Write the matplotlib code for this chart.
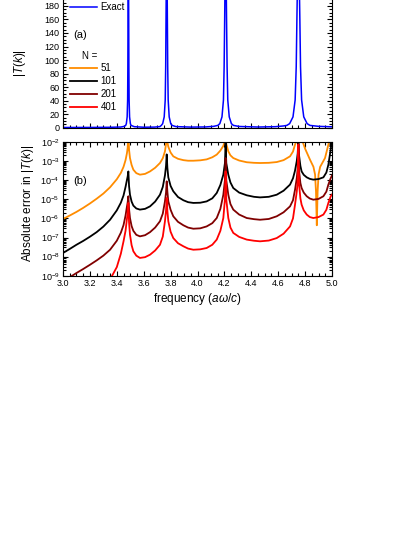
import numpy as np
import matplotlib
matplotlib.use("Agg")
import matplotlib.pyplot as plt
from matplotlib.lines import Line2D
from matplotlib.ticker import MultipleLocator, LogLocator, FormatStrFormatter

plt.rcParams['font.family'] = ['Liberation Sans', 'DejaVu Sans']
plt.rcParams['mathtext.fontset'] = 'custom'
plt.rcParams['mathtext.rm'] = 'Liberation Sans'
plt.rcParams['mathtext.it'] = 'Liberation Sans:italic'

# (a) exact |T(k)|
x_exact = [3.00, 3.20, 3.35, 3.43, 3.456, 3.466, 3.471, 3.477, 3.4805, 3.4822, 3.4835,
           3.486, 3.4885, 3.4898, 3.4915, 3.495, 3.501, 3.506, 3.53, 3.60, 3.68, 3.72,
           3.731, 3.741, 3.7525, 3.760, 3.7635, 3.766, 3.771, 3.776, 3.7785, 3.782, 3.7895,
           3.801, 3.811, 3.84, 3.95, 4.06, 4.12, 4.151, 4.166, 4.182, 4.193, 4.198, 4.202,
           4.209, 4.216, 4.220, 4.225, 4.236, 4.252, 4.267, 4.31, 4.45, 4.58, 4.64, 4.664,
           4.685, 4.710, 4.726, 4.734, 4.739, 4.750, 4.761, 4.766, 4.774, 4.790, 4.815,
           4.836, 4.90, 5.00]
t_exact = [0.3, 0.4, 0.6, 1.0, 2.0, 3.4, 6, 16, 41, 90, 160,
           300, 160, 90, 41, 16, 6, 3.4, 1.5, 0.7, 0.9, 1.6,
           3.4, 6, 16, 41, 90, 160, 300, 160, 90, 41, 16,
           6, 3.4, 1.6, 0.9, 1.1, 2.0, 3.4, 6, 16, 41, 90, 160,
           300, 160, 90, 41, 16, 6, 3.4, 1.8, 1.0, 1.5, 2.6, 3.4,
           6, 16, 41, 90, 160, 300, 160, 90, 41, 16, 6,
           3.4, 2.0, 1.3]

# (b) absolute error, stored as log10 of the value
x_err = [3.00, 3.05, 3.10, 3.15, 3.20, 3.25, 3.30, 3.35, 3.40, 3.43, 3.45, 3.465, 3.475, 3.481, 3.486,
         3.491, 3.498, 3.51, 3.523, 3.545, 3.572, 3.61, 3.647, 3.685, 3.721, 3.742, 3.758, 3.766, 3.771,
         3.776, 3.783, 3.80, 3.82, 3.855, 3.895, 3.93, 3.969, 4.02, 4.068, 4.11, 4.143, 4.17, 4.192, 4.204, 4.209,
         4.214, 4.229, 4.245, 4.266, 4.31, 4.366, 4.42, 4.465, 4.53, 4.589, 4.64, 4.688, 4.71, 4.725, 4.738, 4.745, 4.750,
         4.755, 4.765, 4.774, 4.79, 4.812, 4.835, 4.861, 4.90, 4.936, 4.958, 4.973, 4.99, 5.00]
log_err101 = [-7.81, -7.60, -7.38, -7.18, -6.96, -6.72, -6.43, -6.07, -5.58, -5.18, -4.80, -4.35, -4.00, -3.80, -3.54,
              -4.30, -4.76, -5.12, -5.33, -5.48, -5.54, -5.50, -5.37, -5.12, -4.76, -4.35, -3.75, -3.25, -2.65,
              -3.35, -3.85, -4.30, -4.58, -4.88, -5.05, -5.15, -5.19, -5.18, -5.11, -4.95, -4.67, -4.25, -3.71, -3.10, -2.05,
              -3.10, -3.71, -4.12, -4.41, -4.65, -4.79, -4.87, -4.90, -4.87, -4.76, -4.55, -4.23, -3.90, -3.50, -3.00, -2.60, -1.90,
              -2.70, -3.25, -3.54, -3.72, -3.85, -3.93, -3.97, -3.94, -3.85, -3.60, -3.19, -2.40, -1.90]
log_err201 = [-9.30, -9.08, -8.86, -8.65, -8.43, -8.20, -7.95, -7.64, -7.17, -6.75, -6.35, -5.85, -5.40, -5.15, -4.84,
              -5.50, -5.98, -6.40, -6.65, -6.86, -6.94, -6.88, -6.72, -6.48, -6.15, -5.75, -5.11, -4.65, -4.06,
              -4.60, -5.11, -5.55, -5.89, -6.18, -6.36, -6.48, -6.54, -6.52, -6.42, -6.25, -5.98, -5.50, -4.76, -4.00, -2.84,
              -4.00, -4.76, -5.25, -5.54, -5.80, -5.98, -6.04, -6.07, -6.03, -5.89, -5.68, -5.37, -5.05, -4.50, -3.90, -3.40, -2.10,
              -3.50, -4.15, -4.41, -4.65, -4.84, -4.96, -5.02, -4.98, -4.84, -4.60, -4.23, -3.90, -3.75]
log_err401 = [-11.5, -11.2, -10.8, -10.5, -10.2, -9.90, -9.60, -9.20, -8.55, -7.85, -7.20, -6.65, -6.05, -5.70, -5.19,
              -6.20, -6.85, -7.40, -7.72, -7.95, -8.07, -8.03, -7.90, -7.68, -7.38, -6.95, -6.15, -5.60, -4.93,
              -5.60, -6.15, -6.70, -7.03, -7.30, -7.46, -7.58, -7.64, -7.62, -7.55, -7.38, -7.11, -6.65, -5.98, -5.00, -3.54,
              -5.00, -5.98, -6.48, -6.76, -6.97, -7.11, -7.17, -7.20, -7.16, -7.03, -6.80, -6.42, -6.00, -5.28, -4.60, -4.10, -2.14,
              -4.20, -4.95, -5.28, -5.58, -5.80, -5.93, -5.98, -5.93, -5.80, -5.55, -5.19, -4.85, -4.75]

x_err51 = [3.00, 3.05, 3.10, 3.15, 3.20, 3.25, 3.30, 3.35, 3.40, 3.43, 3.45, 3.465, 3.475, 3.481, 3.486,
           3.491, 3.498, 3.51, 3.523, 3.545, 3.572, 3.61, 3.647, 3.685, 3.721, 3.742, 3.758, 3.766, 3.771,
           3.776, 3.783, 3.80, 3.82, 3.855, 3.895, 3.93, 3.969, 4.02, 4.068, 4.11, 4.143, 4.17, 4.192, 4.204, 4.209,
           4.214, 4.229, 4.245, 4.266, 4.31, 4.366, 4.42, 4.465, 4.53, 4.589, 4.64, 4.688, 4.71, 4.725, 4.738, 4.745, 4.750,
           4.755, 4.765, 4.780, 4.800, 4.836, 4.862, 4.874, 4.881, 4.887, 4.893, 4.900, 4.912, 4.948, 4.973, 4.985, 5.00]
log_err51 = [-6.03, -5.85, -5.66, -5.45, -5.22, -4.97, -4.70, -4.37, -3.95, -3.62, -3.30, -2.95, -2.60, -2.30, -1.50,
             -2.40, -2.84, -3.20, -3.45, -3.63, -3.71, -3.67, -3.54, -3.35, -3.10, -2.85, -2.49, -2.10, -1.50,
             -2.00, -2.25, -2.55, -2.75, -2.88, -2.95, -2.98, -2.98, -2.96, -2.91, -2.80, -2.66, -2.45, -2.20, -1.95, -1.50,
             -2.10, -2.49, -2.70, -2.84, -2.97, -3.06, -3.09, -3.10, -3.09, -3.05, -2.95, -2.75, -2.50, -2.14, -1.90, -1.70, -1.50,
             -1.60, -1.75, -1.95, -2.35, -2.92, -3.30, -3.70, -4.60, -6.36, -4.60, -3.70, -3.30, -2.84, -2.14, -1.80, -1.50]

n_labels = ['51', '101', '201', '401']
n_colors = ['#ff8c00', '#000000', '#800000', '#ff0000']

fig = plt.figure(figsize=(4.15, 5.37), dpi=100)
W, H = 415, 537
ax1 = fig.add_axes([63 / W, (H - 127.7) / H, 269 / W, 135.3 / H])
ax2 = fig.add_axes([63 / W, (H - 275.7) / H, 269 / W, 133.7 / H])

# panel (a)
h_exact, = ax1.plot(x_exact, t_exact, color='#0000ff', lw=1.1)
ax1.set_xlim(3.0, 5.0)
ax1.set_ylim(0, 200)
ax1.set_yticks(np.arange(0, 181, 20))
ax1.yaxis.set_minor_locator(MultipleLocator(5))
ax1.tick_params(labelbottom=False)
ax1.set_ylabel('|$T$($k$)|', fontsize=8.5)
ax1.yaxis.set_label_coords(-0.13, 0.48)
ax1.text(0.037, 0.685, '(a)', transform=ax1.transAxes, fontsize=8, va='center')
ax1.text(0.072, 0.530, 'N =', transform=ax1.transAxes, fontsize=7, va='center')

leg1 = ax1.legend([h_exact], ['Exact'], loc='upper left', bbox_to_anchor=(0.026, 0.928),
                  frameon=False, fontsize=7, handlelength=2.8, handletextpad=0.35,
                  borderpad=0, borderaxespad=0)
ax1.add_artist(leg1)
proxies = [Line2D([], [], color=c, lw=1.3) for c in n_colors]
ax1.legend(proxies, n_labels, loc='upper left', bbox_to_anchor=(0.026, 0.478),
           frameon=False, fontsize=7, handlelength=2.8, handletextpad=0.35,
           labelspacing=0.31, borderpad=0, borderaxespad=0)

# panel (b)
ax2.plot(x_err51, 10 ** np.array(log_err51), color=n_colors[0], lw=1.3)
ax2.plot(x_err, 10 ** np.array(log_err101), color=n_colors[1], lw=1.3)
ax2.plot(x_err, 10 ** np.array(log_err201), color=n_colors[2], lw=1.3)
ax2.plot(x_err, 10 ** np.array(log_err401), color=n_colors[3], lw=1.3)
ax2.set_yscale('log')
ax2.set_xlim(3.0, 5.0)
ax2.set_ylim(1e-9, 1e-2)
ax2.yaxis.set_major_locator(LogLocator(base=10, numticks=20))
ax2.yaxis.set_minor_locator(LogLocator(base=10, subs=np.arange(2, 10), numticks=20))
ax2.set_ylabel('Absolute error in |$T$($k$)|', fontsize=8.5)
ax2.yaxis.set_label_coords(-0.10, 0.54)
ax2.set_xlabel('frequency ($a\\omega$/$c$)', fontsize=8.5, labelpad=2)
ax2.text(0.037, 0.708, '(b)', transform=ax2.transAxes, fontsize=8, va='center')

for ax in (ax1, ax2):
    ax.xaxis.set_major_locator(MultipleLocator(0.2))
    ax.xaxis.set_minor_locator(MultipleLocator(0.05))
    ax.tick_params(which='both', direction='in', top=True, right=True, labelsize=6.5,
                   width=0.8, pad=2.5)
    ax.tick_params(which='major', length=3.5)
    ax.tick_params(which='minor', length=2)
ax2.xaxis.set_major_formatter(FormatStrFormatter('%.1f'))

fig.savefig('out.png', dpi=100)
